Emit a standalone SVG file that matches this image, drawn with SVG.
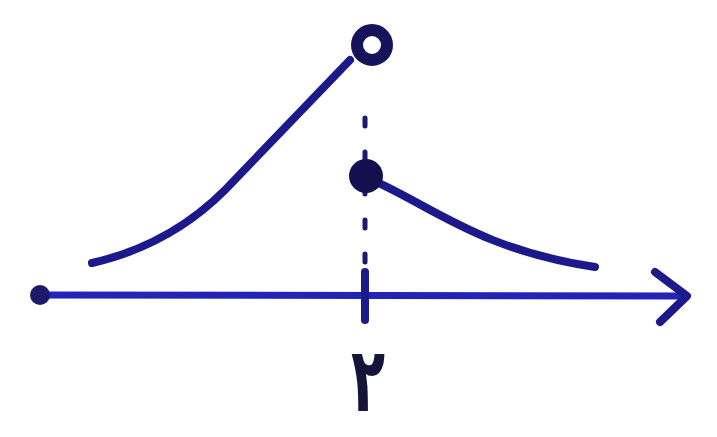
<svg xmlns="http://www.w3.org/2000/svg" width="717" height="437" viewBox="0 0 717 437">
<style>
.ln{fill:none;stroke:#1c1a8a;stroke-width:8;stroke-linecap:round;stroke-linejoin:round}
.ax{fill:none;stroke:#2323b8;stroke-width:7;stroke-linecap:round;stroke-linejoin:round}
.dash{fill:none;stroke:#1c1a6a;stroke-width:5;stroke-dasharray:8 26;stroke-linecap:round}
</style>
<rect width="717" height="437" fill="#ffffff"/>
<g id="axis">
<path class="ax" d="M40 295 L685 296"/>
<path class="ln" d="M655 272 L687 296 L660 322"/>
<circle cx="40" cy="295" r="10" fill="#1c1a6a"/>
<path class="ln" d="M365 272 L365 320" stroke-width="6"/>
</g>
<g id="guide">
<path class="dash" d="M365 118 L365 262"/>
</g>
<g id="left-branch">
<path class="ln" d="M92 263 C140 252 185 230 225 190 L350 60"/>
<circle cx="372" cy="45" r="15" fill="#ffffff" stroke="#16135a" stroke-width="12"/>
</g>
<g id="right-branch">
<path class="ln" d="M372 180 C430 205 480 250 595 267"/>
<circle cx="366" cy="176" r="17" fill="#141050"/>
</g>
<g id="label">
<text transform="translate(368,411) scale(0.9,1.45)" font-family="'Noto Sans', 'DejaVu Sans', sans-serif" font-size="62" font-weight="bold" fill="#16143a" text-anchor="middle">۲</text>
</g>
</svg>
